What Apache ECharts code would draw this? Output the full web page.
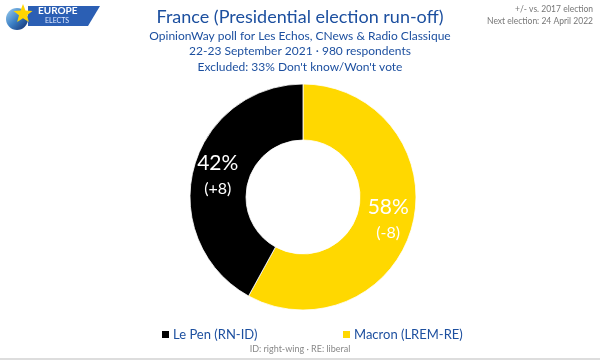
<!DOCTYPE html>
<html>
<head>
<meta charset="utf-8">
<script src="https://cdn.jsdelivr.net/npm/echarts@6/dist/echarts.min.js"></script>
<style>html,body{margin:0;padding:0;background:#fff;}#c{width:600px;height:360px;}</style>
</head>
<body>
<div id="c"></div>
<script>
const candidates = ['Macron (LREM-RE)', 'Le Pen (RN-ID)'];
const shares = [58, 42];
const changes = ['-8', '+8'];

const sliceColors = ['#FFD800', '#000000'];
const blue = '#1c4f9f';
const FONT = 'Lato';

const chart = echarts.init(document.getElementById('c'));
const option = {
  backgroundColor: '#ffffff',
  animation: false,
  title: [
    { text: 'France (Presidential election run-off)', left: 'center', top: 3,
      textStyle: { color: blue, fontSize: 18, fontWeight: 'normal', fontFamily: FONT } },
    { text: 'OpinionWay poll for Les Echos, CNews & Radio Classique\n22-23 September 2021 · 980 respondents\nExcluded: 33% Don\'t know/Won\'t vote',
      left: 'center', top: 23,
      textStyle: { color: blue, fontSize: 12, fontWeight: 'normal', fontFamily: FONT, lineHeight: 15.5, align: 'center' } },
    { text: 'ID: right-wing · RE: liberal', left: 'center', top: 340,
      textStyle: { color: '#888', fontSize: 9, fontWeight: 'normal', fontFamily: FONT } }
  ],
  legend: [
    { data: [candidates[1]], left: 155, top: 323, icon: 'rect', itemWidth: 9, itemHeight: 9, itemGap: 4,
      textStyle: { color: blue, fontSize: 13, fontFamily: FONT, padding: [0, 0, 0, -2] } },
    { data: [candidates[0]], left: 336, top: 323, icon: 'rect', itemWidth: 9, itemHeight: 9, itemGap: 4,
      textStyle: { color: blue, fontSize: 13, fontFamily: FONT, padding: [0, 0, 0, -2] } }
  ],
  graphic: [
    { type: 'circle', shape: { cx: 17, cy: 19, r: 11 },
      style: { fill: new echarts.graphic.LinearGradient(0, 0, 1, 1, [{offset:0,color:'#9fd0f0'},{offset:0.5,color:'#3b7fc4'},{offset:1,color:'#102a6b'}]) } },
    { type: 'polygon', shape: { points: [[28, 6], [100, 6], [88, 26], [28, 26]] }, style: { fill: '#2b5fb4' } },
    { type: 'polygon', shape: { points: (function(){ const p=[]; const cx=23, cy=14; for(let i=0;i<10;i++){ const r = i%2===0?10:4.2; const a = -Math.PI/2 + i*Math.PI/5; p.push([cx + r*Math.cos(a), cy + r*Math.sin(a)]);} return p; })() },
      style: { fill: '#ffd500' } },
    { type: 'text', left: 38, top: 6, style: { text: 'EUROPE', fill: '#fff', font: 'bold 10px ' + FONT } },
    { type: 'text', left: 45, top: 17, style: { text: 'ELECTS', fill: '#dfe8ff', font: '7px ' + FONT } },
    { type: 'text', right: 7, top: 5, style: { text: '+/- vs. 2017 election', fill: '#777', font: '8.5px ' + FONT, textAlign: 'right' } },
    { type: 'text', right: 7, top: 17, style: { text: 'Next election: 24 April 2022', fill: '#777', font: '8.5px ' + FONT, textAlign: 'right' } },
    { type: 'line', shape: { x1: 0, y1: 359, x2: 600, y2: 359 }, style: { stroke: '#dddddd', lineWidth: 2 } }
  ],
  series: [{
    type: 'pie',
    center: [303, 197],
    radius: [57, 113],
    startAngle: 90,
    clockwise: true,
    avoidLabelOverlap: false,
    itemStyle: { borderColor: '#ffffff', borderWidth: 0.8 },
    label: {
      show: true, position: 'inside',
      formatter: function (p) { return '{a|' + p.value + '%}\n{b|(' + changes[p.dataIndex] + ')}'; },
      rich: {
        a: { color: '#fff', fontSize: 21, fontFamily: FONT, lineHeight: 27 },
        b: { color: '#fff', fontSize: 16, fontFamily: FONT, lineHeight: 24 }
      }
    },
    labelLine: { show: false },
    emphasis: { disabled: true },
    data: candidates.map(function (n, i) { return { name: n, value: shares[i], itemStyle: { color: sliceColors[i] } }; })
  }]
};
chart.setOption(option);
</script>
</body>
</html>
